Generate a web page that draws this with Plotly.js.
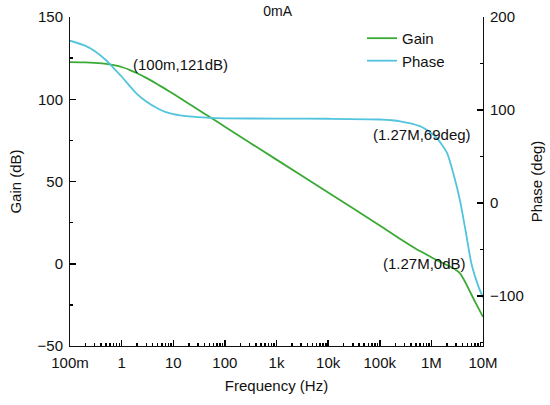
<!DOCTYPE html>
<html>
<head>
<meta charset="utf-8">
<script src="https://cdn.plot.ly/plotly-3.0.1.min.js"></script>
<style>html,body{margin:0;padding:0;background:#fff}#chart{width:550px;height:405px}</style>
</head>
<body>
<div id="chart"></div>
<script>
// Gain curve (frequency in Hz, gain in dB)
const gainFreq = [0.1, 0.2, 0.3, 0.5, 0.7, 1, 1.5, 2, 3, 5, 7, 10, 20, 30, 50, 100, 1e3, 1e4, 1e5, 2.5e5, 5e5, 1e6, 1.27e6, 2e6, 2.9e6, 3.6e6, 4.5e6, 5.6e6, 7e6, 1e7];
const gainDb   = [122.6, 122.4, 122.1, 121.5, 120.7, 119.6, 117.6, 115.8, 113, 109, 106.3, 103.3, 97.3, 93.8, 89.4, 83.3, 63.3, 43.3, 23.3, 15.0, 9.1, 4.0, 2.2, -0.8, -3.5, -5.8, -11, -17, -23, -32.3];
// Phase curve (frequency in Hz, phase in deg)
const phaseFreq = [0.1, 0.2, 0.3, 0.5, 0.7, 1, 1.5, 2, 3, 5, 7, 10, 20, 50, 100, 1e3, 1e4, 1e5, 2.5e5, 6e5, 1e6, 1.27e6, 2e6, 2.7e6, 3.6e6, 4.6e6, 6e6, 8.1e6, 1e7];
const phaseDeg  = [174.5, 169, 163.5, 153.5, 145, 136, 124.5, 117, 109, 101.5, 98, 95.5, 93, 91.5, 91, 90.7, 90.5, 89.7, 87.8, 82.5, 75, 70, 54, 30.5, 2, -30, -66, -89.6, -102];
// Tick labels
const xTickVals = [0.1, 1, 10, 100, 1e3, 1e4, 1e5, 1e6, 1e7];
const xTickText = ['100m', '1', '10', '100', '1k', '10k', '100k', '1M', '10M'];
const gainTickVals = [-50, 0, 50, 100, 150];
const phaseTickVals = [-100, 0, 100, 200];
// Marker texts
const noteTexts = ['(100m,121dB)', '(1.27M,69deg)', '(1.27M,0dB)'];

// minor tick positions derived from the major ones
const xMinor = [];
xTickVals.slice(0, -1).forEach(d => { for (let k = 2; k <= 9; k++) xMinor.push(d * k); });
const gainMinor = gainTickVals.slice(0, -1).map(v => v + 25);
const phaseMinor = phaseTickVals.slice(0, -1).map(v => v + 50).concat([-150]);

const FAM = 'Liberation Sans, Arial, sans-serif';
const font = {family: FAM, size: 15, color: '#111'};
const INK = '#000';
const TW = 1.5;

function minorTicks(vals) {
  return {tickmode: 'array', tickvals: vals, ticks: 'inside', ticklen: 3,
          tickcolor: INK, tickwidth: TW, showgrid: false};
}

const traces = [
  {x: gainFreq, y: gainDb, name: 'Gain', type: 'scatter', mode: 'lines',
   line: {color: '#3aaa35', width: 1.8, shape: 'spline', smoothing: 0.6}, xaxis: 'x', yaxis: 'y'},
  {x: phaseFreq, y: phaseDeg, name: 'Phase', type: 'scatter', mode: 'lines',
   line: {color: '#52c4dd', width: 1.8, shape: 'spline', smoothing: 0.6}, xaxis: 'x', yaxis: 'y2'}
];

const layout = {
  width: 550, height: 405,
  margin: {l: 70, r: 67, t: 17, b: 59},
  paper_bgcolor: '#fff', plot_bgcolor: 'rgba(0,0,0,0)',
  font: font,
  showlegend: true,
  title: {text: '0mA', font: {family: FAM, size: 14, color: '#111'},
          x: 0.503, xref: 'paper', xanchor: 'center', y: 0.972, yref: 'container', yanchor: 'middle'},
  legend: {x: 0.707, y: 0.985, xanchor: 'left', yanchor: 'top', bgcolor: 'rgba(0,0,0,0)',
           font: font, tracegroupgap: 0},
  xaxis: {
    type: 'log', range: [-1, 7], autorange: false,
    tickmode: 'array', tickvals: xTickVals, ticktext: xTickText,
    ticks: 'inside', ticklen: 6, tickcolor: INK, tickwidth: TW,
    minor: minorTicks(xMinor), layer: 'above traces',
    showline: true, linecolor: '#111', linewidth: 1,
    showgrid: false, zeroline: false, ticklabelstandoff: 3,
    title: {text: 'Frequency (Hz)', font: font, standoff: 10}
  },
  yaxis: {
    range: [-50, 150], autorange: false, tickmode: 'array', tickvals: gainTickVals,
    ticks: 'inside', ticklen: 6, tickcolor: INK, tickwidth: TW,
    minor: minorTicks(gainMinor), layer: 'above traces',
    showline: true, linecolor: '#111', linewidth: 1,
    showgrid: false, zeroline: false, ticklabelstandoff: 3,
    title: {text: 'Gain (dB)', font: font, standoff: 12}
  },
  yaxis2: {
    overlaying: 'y', side: 'right', anchor: 'x',
    range: [-154, 200], autorange: false, tickmode: 'array', tickvals: phaseTickVals,
    ticks: 'inside', ticklen: 6, tickcolor: INK, tickwidth: TW,
    minor: minorTicks(phaseMinor), layer: 'above traces',
    showline: true, linecolor: '#111', linewidth: 1,
    showgrid: false, zeroline: false, ticklabelstandoff: 3,
    title: {text: 'Phase (deg)', font: font, standoff: 8}
  },
  annotations: [
    {text: noteTexts[0], xref: 'paper', yref: 'paper', x: (180 - 70) / 413, y: (346 - 64) / 329,
     xanchor: 'center', yanchor: 'middle', showarrow: false, font: font},
    {text: noteTexts[1], xref: 'paper', yref: 'paper', x: (421.5 - 70) / 413, y: (346 - 134) / 329,
     xanchor: 'center', yanchor: 'middle', showarrow: false, font: font},
    {text: noteTexts[2], xref: 'paper', yref: 'paper', x: (424 - 70) / 413, y: (346 - 263.5) / 329,
     xanchor: 'center', yanchor: 'middle', showarrow: false, font: font}
  ]
};

Plotly.newPlot('chart', traces, layout, {displayModeBar: false, staticPlot: true});
</script>
</body>
</html>
